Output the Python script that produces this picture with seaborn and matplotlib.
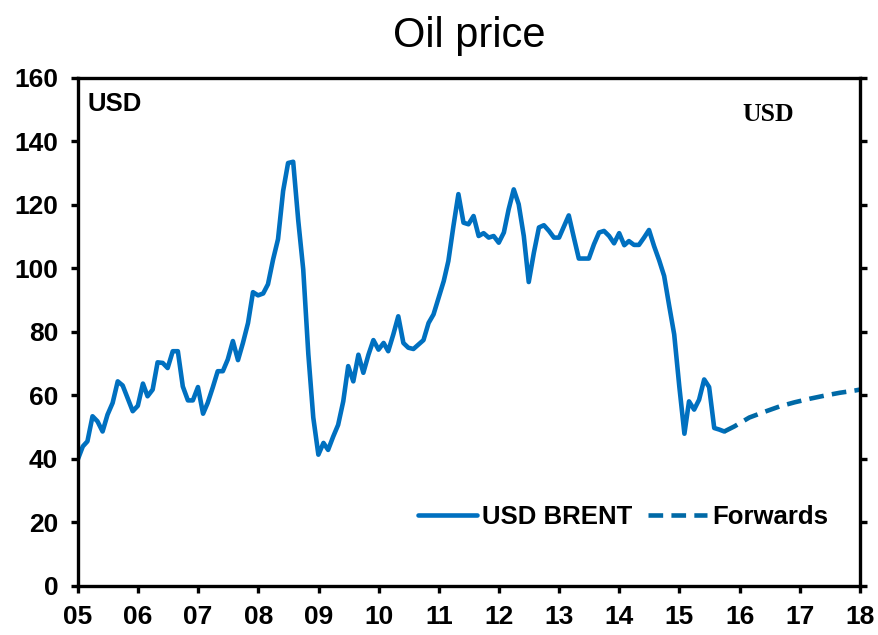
import matplotlib
matplotlib.use('Agg')
import matplotlib.pyplot as plt
from matplotlib import font_manager
import seaborn as sns
import pandas as pd

# Brent, monthly (month-end points)
brent = [39.7, 43.9, 45.5, 53.4, 51.8, 48.6, 53.9, 57.6, 64.4, 63.1, 59.0, 55.0,
         56.7, 63.7, 59.7, 61.8, 70.4, 70.2, 68.6, 73.9, 73.9, 62.8, 58.4, 58.4,
         62.6, 54.2, 57.6, 62.5, 67.6, 67.6, 71.3, 77.1, 71.1, 76.5, 82.8, 92.5,
         91.5, 92.1, 95.0, 102.8, 109.2, 124.4, 133.2, 133.6, 115.0, 99.7, 73.0, 53.0,
         41.3, 45.0, 42.8, 47.0, 50.7, 58.1, 69.2, 64.4, 72.8, 67.1, 72.8, 77.4,
         74.4, 76.5, 73.9, 79.2, 84.9, 76.5, 75.0, 74.6, 76.0, 77.4, 82.8, 85.5,
         90.7, 96.0, 102.3, 113.4, 123.4, 114.4, 113.9, 116.5, 110.2, 111.1, 109.7, 110.2,
         108.1, 111.3, 118.6, 124.9, 120.2, 110.2, 95.7, 104.9, 112.9, 113.6, 111.8, 109.7,
         109.7, 113.4, 116.7, 109.7, 103.1, 103.1, 103.1, 107.6, 111.3, 111.8, 110.2, 107.9,
         111.1, 107.3, 108.6, 107.4, 107.4, 109.7, 112.1, 107.0, 102.5, 97.6, 88.1, 79.2,
         62.8, 47.9, 58.1, 55.5, 58.6, 65.0, 62.6, 49.7, 49.2, 48.6]
brent_dates = pd.date_range('2004-12-31', periods=len(brent), freq='ME')

# forward curve
fwd_dates = pd.to_datetime(['2015-09-30', '2015-11-30', '2016-02-29', '2016-05-31',
                            '2016-08-31', '2016-11-30', '2017-02-28', '2017-05-31',
                            '2017-08-31', '2017-11-30', '2017-12-31'])
fwd = [48.6, 50.2, 53.0, 54.8, 56.5, 57.8, 58.9, 59.9, 60.8, 61.5, 61.8]

years = list(range(2005, 2019))
year_labels = [f'{y % 100:02d}' for y in years]

sns.set_style('ticks')
plt.rcParams['font.family'] = ['Liberation Sans', 'DejaVu Sans']
plt.rcParams['text.color'] = 'black'
plt.rcParams['xtick.color'] = 'black'
plt.rcParams['ytick.color'] = 'black'
plt.rcParams['axes.labelcolor'] = 'black'

names = {f.name for f in font_manager.fontManager.ttflist}
if 'Liberation Sans Narrow' in names:
    title_font, title_size = 'Liberation Sans Narrow', 33
else:
    title_font, title_size = 'Liberation Sans', 30

df_brent = pd.DataFrame({'date': brent_dates, 'price': brent})
df_fwd = pd.DataFrame({'date': fwd_dates, 'price': fwd})

fig, ax = plt.subplots(figsize=(8.79, 6.35), dpi=100)
fig.subplots_adjust(left=0.0884, right=0.9784, bottom=0.0776, top=0.8772)

sns.lineplot(data=df_brent, x='date', y='price', ax=ax, color='#0070C0',
             linewidth=3.3, label='USD BRENT')
sns.lineplot(data=df_fwd, x='date', y='price', ax=ax, color='#0069A6',
             linewidth=3.3, linestyle=(0, (3.2, 1.8)), label='Forwards')

ax.set_xlim(pd.Timestamp('2004-12-31'), pd.Timestamp('2017-12-31'))
ax.set_ylim(0, 160)
ax.set_yticks(range(0, 161, 20))
ax.set_xticks([pd.Timestamp(f'{y}-01-01') for y in years])
ax.set_xticklabels(year_labels)
ax.set_xlabel('')
ax.set_ylabel('')

for s in ax.spines.values():
    s.set_visible(True)
    s.set_linewidth(2.4)
    s.set_color('black')

ax.tick_params(axis='both', direction='out', length=5, width=2.4, color='black',
               labelcolor='black', labelsize=19)
ax.tick_params(axis='y', right=True, labelright=False, pad=9)
ax.tick_params(axis='x', pad=9)
for lab in ax.get_xticklabels() + ax.get_yticklabels():
    lab.set_fontweight('bold')

ax.set_title('Oil price', fontsize=title_size, family=title_font, pad=22,
             color='black')

ax.text(0.013, 0.935, 'USD', transform=ax.transAxes, fontsize=18.5,
        fontweight='bold', ha='left', va='baseline', color='black')
ax.text(0.849, 0.916, 'USD', transform=ax.transAxes, fontsize=18.5,
        fontweight='bold', family='Liberation Serif', ha='left', va='baseline',
        color='black')

leg = ax.legend(loc='center right', bbox_to_anchor=(0.972, 0.136), ncol=2,
                frameon=False, fontsize=18.5, handlelength=2.3, handletextpad=0.2,
                columnspacing=0.6, borderaxespad=0)
for t in leg.get_texts():
    t.set_fontweight('bold')
    t.set_color('black')

fig.savefig('out.png', dpi=100)
